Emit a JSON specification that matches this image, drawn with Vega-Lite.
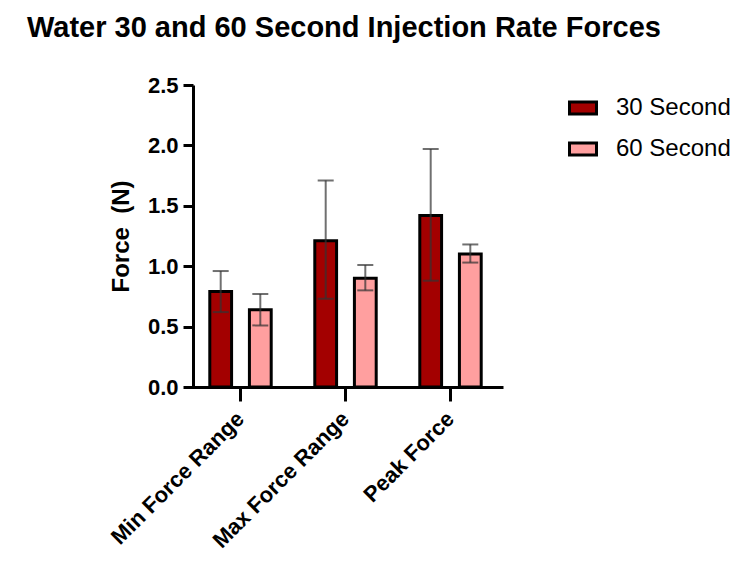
{
  "$schema": "https://vega.github.io/schema/vega-lite/v6.json",
  "width": 305,
  "height": 302,
  "autosize": {"type": "none"},
  "padding": {"left": 193, "top": 85, "right": 255, "bottom": 194},
  "background": "white",
  "config": {"view": {"stroke": null}, "font": "Liberation Sans"},
  "title": {
    "text": "Water 30 and 60 Second Injection Rate Forces",
    "anchor": "start",
    "frame": "group",
    "dx": -166,
    "offset": 31,
    "fontSize": 29,
    "font": "Liberation Sans",
    "fontWeight": "bold",
    "color": "black"
  },
  "data": {
    "values": [
      {"measure": "Min Force Range", "series": "30 Second", "force": 0.79, "lo": 0.62, "hi": 0.96},
      {"measure": "Min Force Range", "series": "60 Second", "force": 0.64, "lo": 0.51, "hi": 0.77},
      {"measure": "Max Force Range", "series": "30 Second", "force": 1.21, "lo": 0.73, "hi": 1.71},
      {"measure": "Max Force Range", "series": "60 Second", "force": 0.90, "lo": 0.80, "hi": 1.01},
      {"measure": "Peak Force", "series": "30 Second", "force": 1.42, "lo": 0.88, "hi": 1.97},
      {"measure": "Peak Force", "series": "60 Second", "force": 1.10, "lo": 1.03, "hi": 1.18}
    ]
  },
  "encoding": {
    "x": {
      "field": "measure",
      "type": "nominal",
      "sort": ["Min Force Range", "Max Force Range", "Peak Force"],
      "scale": {"paddingInner": 0, "paddingOuter": 0, "range": [-5, 310]},
      "axis": {
        "title": null,
        "labelAngle": -45,
        "labelAlign": "right",
        "labelBaseline": "middle",
        "labelFontSize": 22,
        "labelFontWeight": "bold",
        "labelFont": "Liberation Sans",
        "labelColor": "black",
        "labelPadding": 14,
        "labelLimit": 0,
        "tickSize": 14,
        "tickWidth": 3,
        "tickColor": "black",
        "domainWidth": 3,
        "domainColor": "black",
        "grid": false
      }
    },
    "xOffset": {
      "field": "series",
      "type": "nominal",
      "scale": {"paddingInner": 0.45, "paddingOuter": 0.55}
    }
  },
  "layer": [
    {
      "mark": {"type": "bar", "stroke": "black", "strokeWidth": 3},
      "encoding": {
        "y": {
          "field": "force",
          "type": "quantitative",
          "scale": {"domain": [0, 2.5], "nice": false},
          "axis": {
            "title": "Force\u00a0 (N)",
            "titleFontSize": 24,
            "titleFontWeight": "bold",
            "titleFont": "Liberation Sans",
            "titleColor": "black",
            "titlePadding": 14,
            "values": [0, 0.5, 1, 1.5, 2, 2.5],
            "format": ".1f",
            "labelFontSize": 22,
            "labelFontWeight": "bold",
            "labelFont": "Liberation Sans",
            "labelColor": "black",
            "labelPadding": 5,
            "tickSize": 10,
            "tickWidth": 3,
            "tickColor": "black",
            "domainWidth": 3,
            "domainColor": "black",
            "grid": false
          }
        },
        "color": {
          "field": "series",
          "type": "nominal",
          "scale": {"domain": ["30 Second", "60 Second"], "range": ["#A30000", "#FF9F9F"]},
          "legend": {
            "title": null,
            "orient": "none",
            "legendX": 375,
            "legendY": 8,
            "padding": 0,
            "labelFontSize": 24,
            "labelFont": "Liberation Sans",
            "labelColor": "black",
            "labelOffset": 18,
            "rowPadding": 13,
            "symbolType": "M-1,-0.45H1V0.45H-1Z",
            "symbolSize": 729,
            "symbolStrokeWidth": 3,
            "symbolStrokeColor": "black",
            "symbolOpacity": 1
          }
        }
      }
    },
    {
      "mark": {"type": "rule", "color": "#333333", "opacity": 0.7, "strokeWidth": 2},
      "encoding": {
        "y": {"field": "lo", "type": "quantitative"},
        "y2": {"field": "hi"}
      }
    },
    {
      "mark": {"type": "tick", "color": "#333333", "opacity": 0.7, "thickness": 2, "size": 16},
      "encoding": {
        "y": {"field": "hi", "type": "quantitative"}
      }
    },
    {
      "mark": {"type": "tick", "color": "#333333", "opacity": 0.7, "thickness": 2, "size": 16},
      "encoding": {
        "y": {"field": "lo", "type": "quantitative"}
      }
    }
  ]
}
